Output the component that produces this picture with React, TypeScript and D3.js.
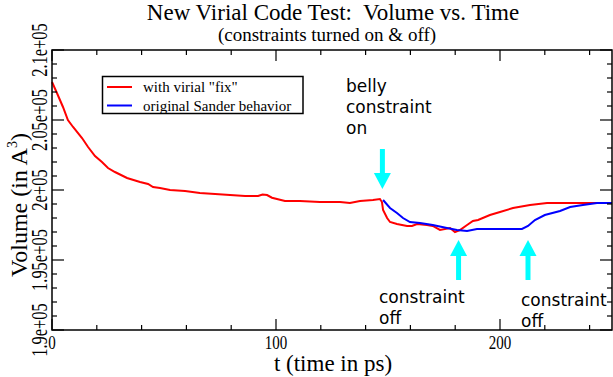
import React from "react";
import * as d3 from "d3";

const redT = [0, 2.2, 4.9, 7.1, 9.4, 13.4, 16.1, 19.2, 22.3, 25, 28.1, 33.5, 39.3, 42.9, 45.1, 48.2, 52.7, 59.4, 66, 72.8, 79.5, 86.2, 92, 94, 96, 98.2, 104, 110.7, 119.6, 128.6, 133, 137.5, 143.3, 146.4, 147.3, 147.8, 149.6, 150.9, 154, 158.5, 160.7, 163, 167.4, 170, 173.2, 177.7, 179.9, 182.1, 185.3, 187.9, 190.2, 195.5, 200, 205.8, 213.4, 221, 228, 237, 243.3, 250];
const redV = [207714, 206929, 205929, 205000, 204500, 203714, 203071, 202429, 202000, 201571, 201286, 200857, 200571, 200429, 200214, 200143, 200000, 199929, 199786, 199714, 199643, 199571, 199571, 199680, 199640, 199450, 199214, 199214, 199143, 199143, 199071, 199214, 199286, 199357, 199143, 198571, 198000, 197714, 197571, 197429, 197429, 197571, 197500, 197429, 197143, 197286, 197000, 197143, 197500, 197786, 197857, 198214, 198429, 198714, 198929, 199071, 199071, 199071, 199071, 199071];

const blueT = [147.8, 150.9, 154, 156.7, 159.8, 164.3, 170, 176.3, 180.8, 185.3, 189.7, 195.5, 204.5, 209.8, 212.5, 215.6, 220, 226.8, 231.3, 237, 243.3, 250];
const blueV = [199286, 198714, 198357, 198000, 197714, 197643, 197500, 197286, 197143, 197071, 197214, 197214, 197214, 197214, 197429, 197857, 198214, 198500, 198786, 198929, 199071, 199071];

const xMajorTicks = [0, 100, 200];
const xMinorTicks = [20, 40, 60, 80, 120, 140, 160, 180, 220, 240];
const yMajorTicks = [190000, 195000, 200000, 205000, 210000];
const yTickLabels = ["1.9e+05", "1.95e+05", "2e+05", "2.05e+05", "2.1e+05"];
const yMinorTicks = d3.range(190000, 210001, 1000).filter((v) => v % 5000 !== 0);

const seriesNames = ['with virial "fix"', "original Sander behavior"];
const seriesColors = ["#ff0000", "#0000ff"];

const titleText = "New Virial Code Test:  Volume vs. Time";
const subtitleText = "(constraints turned on & off)";

const annotations = [
  { lines: ["belly", "constraint", "on"], t: 147.5, v: 200070, dir: "down", tx: 346, ty: 92 },
  { lines: ["constraint", "off"], t: 181.5, v: 196430, dir: "up", tx: 379, ty: 303 },
  { lines: ["constraint", "off"], t: 212.5, v: 196430, dir: "up", tx: 521, ty: 306 },
];

const L = 52, R = 612, T = 50, B = 330;

export default function App() {
  const x = d3.scaleLinear().domain([0, 250]).range([L, R]);
  const y = d3.scaleLinear().domain([190000, 210000]).range([B, T]);
  const line = d3
    .line<[number, number]>()
    .x((d) => x(d[0]))
    .y((d) => y(d[1]));
  const redData = redT.map((t, i) => [t, redV[i]] as [number, number]);
  const blueData = blueT.map((t, i) => [t, blueV[i]] as [number, number]);
  const serif = "'Liberation Serif', 'Times New Roman', serif";
  const sans = "'DejaVu Sans', sans-serif";
  const cyan = "#00ffff";

  return (
    <div style={{ position: "fixed", left: 0, top: 0 }}>
      <svg width={613} height={377} style={{ display: "block", background: "#fff" }}>
        <rect x={0} y={0} width={613} height={377} fill="#fff" />
        <text x={333} y={20} textAnchor="middle" fontFamily={serif} fontSize={23} style={{ whiteSpace: "pre" }}>
          {titleText}
        </text>
        <text x={327} y={41} textAnchor="middle" fontFamily={serif} fontSize={19}>
          {subtitleText}
        </text>

        <path d={line(redData) || ""} fill="none" stroke={seriesColors[0]} strokeWidth={2} />
        <path d={line(blueData) || ""} fill="none" stroke={seriesColors[1]} strokeWidth={2} />

        <rect x={L} y={T} width={R - L} height={B - T} fill="none" stroke="#000" strokeWidth={1.5} />
        {xMajorTicks.map((t) => (
          <g key={"xM" + t}>
            <line x1={x(t)} x2={x(t)} y1={B} y2={B - 11} stroke="#000" strokeWidth={1.2} />
            <line x1={x(t)} x2={x(t)} y1={T} y2={T + 11} stroke="#000" strokeWidth={1.2} />
            <text
              transform={`translate(${x(t)},349) scale(1,1.25)`}
              textAnchor="middle"
              fontFamily={serif}
              fontSize={15}
            >
              {t}
            </text>
          </g>
        ))}
        {xMinorTicks.map((t) => (
          <g key={"xm" + t}>
            <line x1={x(t)} x2={x(t)} y1={B} y2={B - 5} stroke="#000" strokeWidth={1.2} />
            <line x1={x(t)} x2={x(t)} y1={T} y2={T + 5} stroke="#000" strokeWidth={1.2} />
          </g>
        ))}
        {yMajorTicks.map((v, i) => (
          <g key={"yM" + v}>
            <line x1={L} x2={L + 12} y1={y(v)} y2={y(v)} stroke="#000" strokeWidth={1.2} />
            <line x1={R} x2={R - 12} y1={y(v)} y2={y(v)} stroke="#000" strokeWidth={1.2} />
            <text
              transform={`translate(47,${y(v)}) rotate(-90) scale(1,1.4)`}
              textAnchor="middle"
              fontFamily={serif}
              fontSize={16.5}
            >
              {yTickLabels[i]}
            </text>
          </g>
        ))}
        {yMinorTicks.map((v) => (
          <g key={"ym" + v}>
            <line x1={L} x2={L + 5} y1={y(v)} y2={y(v)} stroke="#000" strokeWidth={1.2} />
            <line x1={R} x2={R - 5} y1={y(v)} y2={y(v)} stroke="#000" strokeWidth={1.2} />
          </g>
        ))}

        <text x={333} y={371} textAnchor="middle" fontFamily={serif} fontSize={23}>
          t (time in ps)
        </text>
        <text transform="translate(27,205) rotate(-90)" textAnchor="middle" fontFamily={serif} fontSize={24}>
          Volume (in A<tspan dy={-10} fontSize={14}>3</tspan>
          <tspan dy={10}>)</tspan>
        </text>

        <rect x={102.5} y={76.5} width={200.5} height={37} fill="#fff" stroke="#000" strokeWidth={1.5} />
        {seriesNames.map((n, i) => (
          <g key={n}>
            <line x1={107} x2={132} y1={87 + i * 18.5} y2={87 + i * 18.5} stroke={seriesColors[i]} strokeWidth={2} />
            <text x={143} y={92 + i * 18.5} fontFamily={serif} fontSize={15}>
              {n}
            </text>
          </g>
        ))}

        {annotations.map((a, k) => {
          const ax = x(a.t);
          const ay = y(a.v);
          const len = 40;
          const head = 16;
          const dir = a.dir === "down" ? 1 : -1;
          const tipY = ay;
          const baseY = tipY - dir * len;
          const headY = tipY - dir * head;
          return (
            <g key={"a" + k}>
              <line x1={ax} x2={ax} y1={baseY} y2={headY} stroke={cyan} strokeWidth={5} />
              <path d={`M${ax - 8.5},${headY} L${ax + 8.5},${headY} L${ax},${tipY} Z`} fill={cyan} />
              {a.lines.map((s, j) => (
                <text key={j} x={a.tx} y={a.ty + j * 21} fontFamily={sans} fontSize={17}>
                  {s}
                </text>
              ))}
            </g>
          );
        })}
      </svg>
    </div>
  );
}
